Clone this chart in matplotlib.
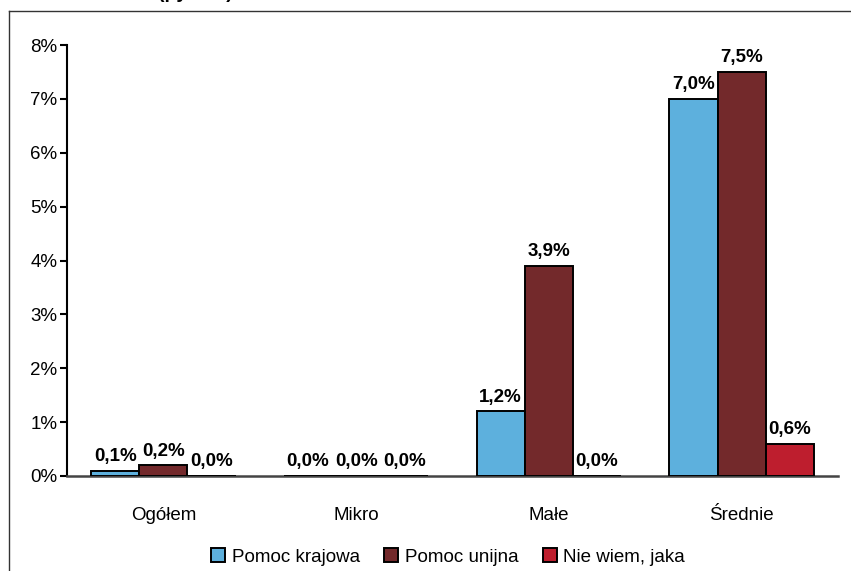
import matplotlib
matplotlib.use("Agg")
import matplotlib.pyplot as plt
from matplotlib.lines import Line2D
import numpy as np

plt.rcParams['font.family'] = ['Liberation Sans', 'DejaVu Sans']

categories = ["Ogółem", "Mikro", "Małe", "Średnie"]
series_names = ["Pomoc krajowa", "Pomoc unijna", "Nie wiem, jaka"]
pomoc_krajowa = [0.1, 0.0, 1.2, 7.0]
pomoc_unijna = [0.2, 0.0, 3.9, 7.5]
nie_wiem = [0.0, 0.0, 0.0, 0.6]
y_ticks = [0, 1, 2, 3, 4, 5, 6, 7, 8]

colors = ["#5DB0DD", "#73292B", "#BE1E2E"]
series = [pomoc_krajowa, pomoc_unijna, nie_wiem]
FS = 13.5

fig = plt.figure(figsize=(8.51, 5.71), dpi=100)
ax = fig.add_axes([67 / 851, 1 - 476 / 571, (838 - 67) / 851, (476 - 45) / 571])

x = np.arange(len(categories))
width = 0.25
for i, (vals, col, name) in enumerate(zip(series, colors, series_names)):
    pos = x + (i - 1) * width
    ax.bar(pos, vals, width, color=col, edgecolor="black", linewidth=1.4,
           label=name, zorder=3)
    for px, v in zip(pos, vals):
        ax.annotate(f"{v:.1f}%".replace(".", ","), (px, v),
                    xytext=(0, 4), textcoords="offset points",
                    ha="center", va="bottom", fontsize=FS, fontweight="bold")

ax.set_xlim(-0.5, len(categories) - 0.5)
ax.set_ylim(0, 8)
ax.set_yticks(y_ticks)
ax.set_yticklabels([f"{t}%" for t in y_ticks], fontsize=FS)
ax.set_xticks(x)
ax.set_xticklabels(categories, fontsize=FS)
ax.tick_params(axis="x", length=0, pad=22)
ax.tick_params(axis="y", length=5, width=1.5, direction="out", pad=2)

for side in ("top", "right"):
    ax.spines[side].set_visible(False)
ax.spines["left"].set_linewidth(1.5)
ax.spines["bottom"].set_linewidth(1.8)
ax.spines["bottom"].set_color("#444444")

handles = [plt.Rectangle((0, 0), 1, 1, facecolor=c, edgecolor="black", linewidth=1.4)
           for c in colors]
fig.legend(handles, series_names, loc="center", bbox_to_anchor=(448 / 851, 1 - 557 / 571),
           ncol=3, frameon=False, fontsize=FS, handlelength=0.75, handleheight=0.75,
           handletextpad=0.35, columnspacing=1.3)

# outer frame
fig.add_artist(Line2D([9 / 851, 9 / 851], [0, 1 - 11 / 571], color="#333333",
                      linewidth=1.0, transform=fig.transFigure))
fig.add_artist(Line2D([9 / 851, 1], [1 - 11 / 571, 1 - 11 / 571], color="#333333",
                      linewidth=1.0, transform=fig.transFigure))

# title line above the frame (only its lower part fits)
fig.text(195 / 851, 1 + 6 / 571, "(pyt. 12)", ha="center", va="center",
         fontsize=14, fontweight="bold")

fig.savefig("out.png", dpi=100)
